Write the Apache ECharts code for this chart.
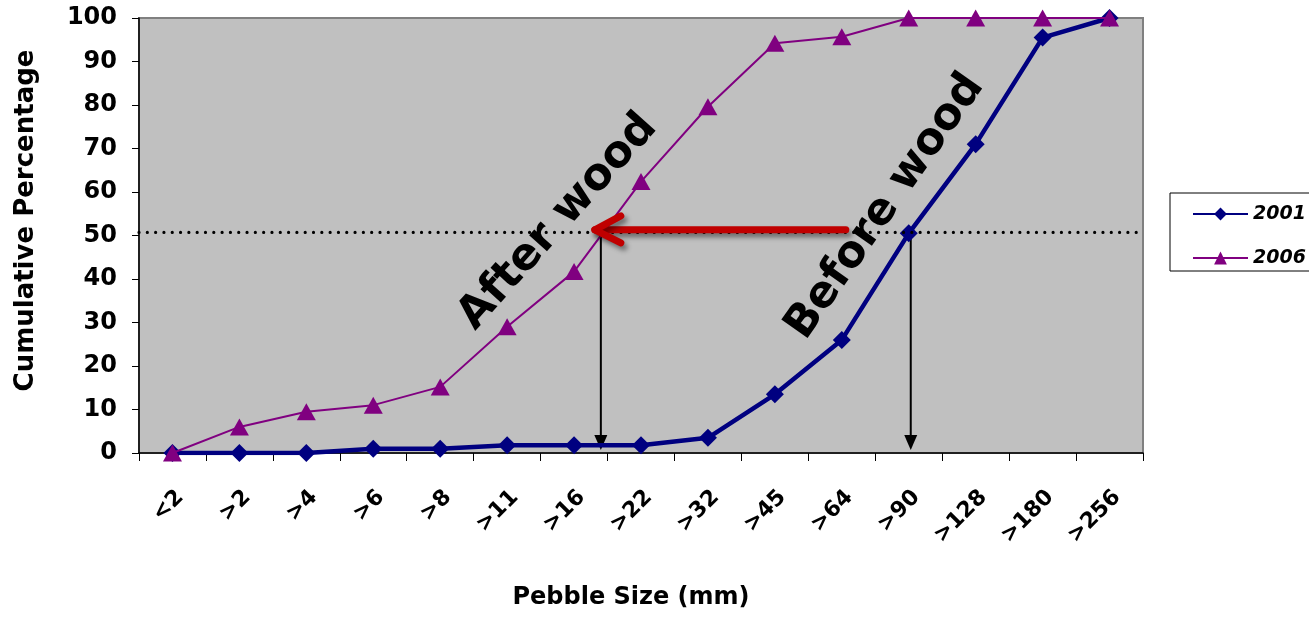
<!DOCTYPE html>
<html><head><meta charset="utf-8">
<script src="https://cdn.jsdelivr.net/npm/echarts@6/dist/echarts.min.js"></script>
<style>html,body{margin:0;padding:0;background:#fff}#c{width:1309px;height:619px}</style>
</head><body><div id="c"></div>
<script>
// ---- data ----
const categories = ['<2', '>2', '>4', '>6', '>8', '>11', '>16', '>22', '>32', '>45', '>64', '>90', '>128', '>180', '>256'];
const values2001 = [0, 0, 0, 1, 1, 1.8, 1.8, 1.8, 3.5, 13.5, 26, 50.5, 71, 95.5, 100];
const values2006 = [0, 6, 9.5, 11, 15.2, 29, 41.7, 62.4, 79.6, 94.2, 95.7, 100, 100, 100, 100];
const yTickValues = [0, 10, 20, 30, 40, 50, 60, 70, 80, 90, 100];
// annotation anchors (category index, percentage)
const medianLevel = 50.7;
const medianAfterX = 6.40;
const medianBeforeX = 11.03;
const arrowTipY = 0.7;
const redArrowFrom = [10.06, 51.3];
const redArrowTo = [6.31, 51.3];
const afterLabelAt = [5.76, 53.1];
const beforeLabelAt = [10.65, 56.6];
const afterLabel = 'After wood';
const beforeLabel = 'Before wood';

const FONT = '"DejaVu Sans", sans-serif';
const chart = echarts.init(document.getElementById('c'), null, {renderer: 'canvas'});

chart.setOption({
  animation: false,
  backgroundColor: '#ffffff',
  grid: {
    left: 139, right: 166, top: 18, bottom: 166,
    show: true, backgroundColor: '#C0C0C0', borderColor: '#808080', borderWidth: 2
  },
  legend: {
    orient: 'vertical', left: 1170, top: 193,
    backgroundColor: '#ffffff', borderColor: '#000000', borderWidth: 1,
    padding: [11, 80, 3, 22], itemGap: 24, itemWidth: 55, itemHeight: 16,
    textStyle: {fontFamily: FONT, fontWeight: 'bold', fontStyle: 'italic', fontSize: 19, color: '#000', lineHeight: 20},
    data: ['2001', '2006']
  },
  xAxis: [{
    type: 'category', data: categories, boundaryGap: true,
    axisLine: {onZero: false, lineStyle: {color: '#000', width: 1.5}},
    axisTick: {show: true, interval: 0, length: 8, lineStyle: {color: '#000'}},
    axisLabel: {interval: 0, rotate: 45, margin: 33, verticalAlign: 'top',
      fontFamily: FONT, fontWeight: 'bold', fontSize: 22, color: '#000'},
    splitLine: {show: false},
    name: 'Pebble Size (mm)', nameLocation: 'middle', nameGap: 133,
    nameTextStyle: {fontFamily: FONT, fontWeight: 'bold', fontSize: 24, color: '#000', padding: [0, 20, 0, 0]}
  }, {
    type: 'value', min: -0.5, max: 14.5, show: false, position: 'top',
    axisLine: {onZero: false}
  }],
  yAxis: {
    type: 'value', min: yTickValues[0], max: yTickValues[yTickValues.length - 1], interval: 10,
    axisLine: {show: true, onZero: false, lineStyle: {color: '#000', width: 1.5}},
    axisTick: {show: true, length: 7, lineStyle: {color: '#000'}},
    axisLabel: {margin: 22, fontFamily: FONT, fontWeight: 'bold', fontSize: 24, color: '#000'},
    splitLine: {show: false},
    name: 'Cumulative Percentage', nameLocation: 'middle', nameGap: 100,
    nameTextStyle: {fontFamily: FONT, fontWeight: 'bold', fontSize: 26, color: '#000', padding: [0, 0, 0, 30]}
  },
  series: [{
    name: '2001', type: 'line', data: values2001,
    symbol: 'diamond', symbolSize: 18, showAllSymbol: true,
    lineStyle: {color: '#000080', width: 4.5},
    itemStyle: {color: '#000080'}, z: 2
  }, {
    name: '2006', type: 'line', data: values2006,
    symbol: 'triangle', symbolSize: [19, 17], showAllSymbol: true,
    lineStyle: {color: '#800080', width: 2},
    itemStyle: {color: '#800080'}, z: 3
  }]
});

function px(pt) { return chart.convertToPixel({xAxisIndex: 1, yAxisIndex: 0}, pt); }

const g = [];
// rotated labels
[[afterLabel, afterLabelAt, 48], [beforeLabel, beforeLabelAt, 55]].forEach(([t, at, deg]) => {
  const p = px(at);
  g.push({type: 'text', x: p[0], y: p[1], rotation: deg * Math.PI / 180, z: 1,
    style: {text: t, fill: '#000', font: 'bold 44px ' + FONT, align: 'center', verticalAlign: 'middle'}});
});
// dotted 50% line
const dl = px([-0.5, medianLevel]), dr = px([14.5, medianLevel]);
g.push({type: 'line', z: 5, shape: {x1: dl[0], y1: dl[1], x2: dr[0], y2: dr[1]},
  style: {stroke: '#000', lineWidth: 3.2, lineDash: [0.01, 8.3], lineCap: 'round'}});
// vertical arrows
[medianAfterX, medianBeforeX].forEach(x => {
  const a = px([x, medianLevel]), b = px([x, arrowTipY]);
  g.push({type: 'line', z: 1, shape: {x1: a[0], y1: a[1] + 2, x2: b[0], y2: b[1] - 10},
    style: {stroke: '#000', lineWidth: 2}});
  g.push({type: 'polygon', z: 1, shape: {points: [[b[0] - 6.5, b[1] - 15], [b[0] + 6.5, b[1] - 15], [b[0], b[1]]]},
    style: {fill: '#000'}});
});
// red arrow
const rf = px(redArrowFrom), rt = px(redArrowTo);
const redStyle = {stroke: '#C00000', fill: null, lineWidth: 7, lineCap: 'round', lineJoin: 'round',
  shadowBlur: 5, shadowOffsetX: 3, shadowOffsetY: 4, shadowColor: 'rgba(0,0,0,0.45)'};
g.push({type: 'polyline', z: 6, shape: {points: [rf, rt]}, style: redStyle});
g.push({type: 'polyline', z: 6, shape: {points: [[rt[0] + 26, rt[1] - 14], rt, [rt[0] + 26, rt[1] + 13]]}, style: redStyle});

chart.setOption({graphic: {elements: g}});
</script>
</body></html>
